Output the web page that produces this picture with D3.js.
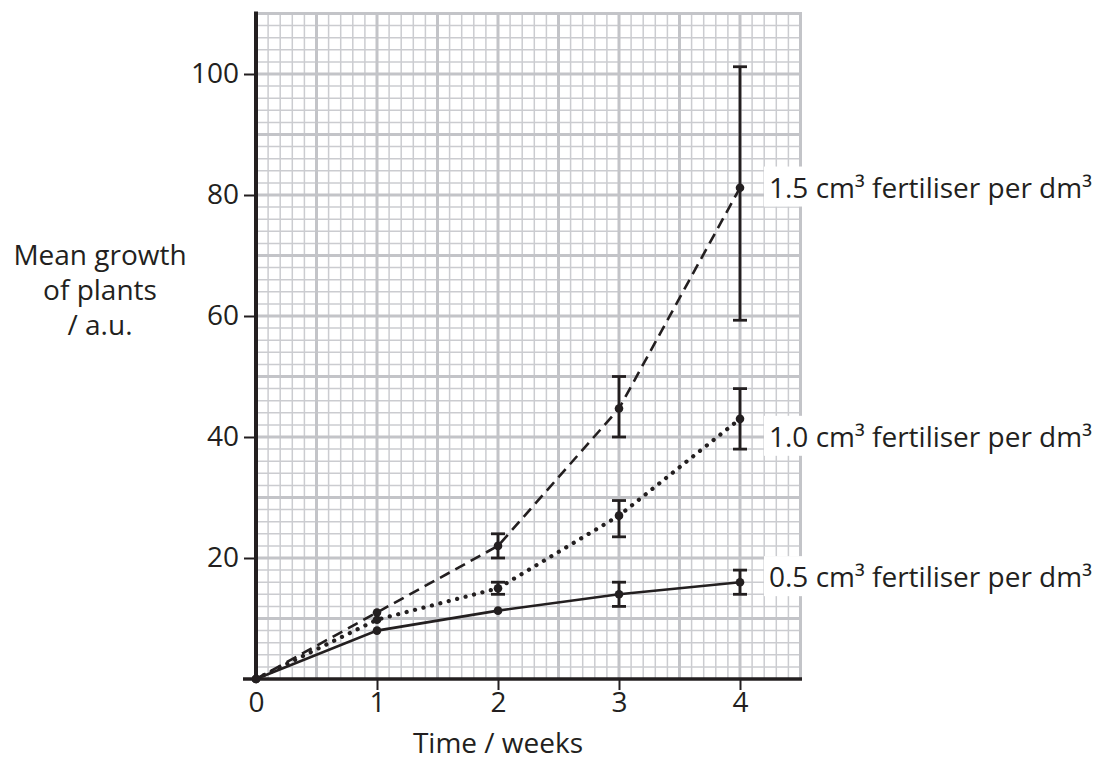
<!DOCTYPE html>
<html><head><meta charset="utf-8">
<script src="https://cdn.jsdelivr.net/npm/d3@7"></script>
<style>
html,body{margin:0;padding:0;background:#fff;}
text{font-family:"Open Sans",sans-serif;fill:#231f20;}
</style></head>
<body>
<svg id="c" width="1095" height="760"></svg>
<script>
const weeks = [0, 1, 2, 3, 4];
const seriesNames = ["1.5 cm³ fertiliser per dm³", "1.0 cm³ fertiliser per dm³", "0.5 cm³ fertiliser per dm³"];
const growth15 = [0, 11, 22, 44.7, 81.2];
const growth10 = [0, 9.8, 15, 27, 43];
const growth05 = [0, 8, 11.3, 14, 16];
const err15Low  = [null, null, 20, 40, 59.3];
const err15High = [null, null, 24, 50, 101.2];
const err10Low  = [null, null, 14, 23.5, 38];
const err10High = [null, null, 16, 29.5, 48];
const err05Low  = [null, null, null, 12, 14];
const err05High = [null, null, null, 16, 18];
const labelValues = [81.2, 40, 16.8];
const yTicks = [20, 40, 60, 80, 100];
const xTicks = [0, 1, 2, 3, 4];

const svg = d3.select("#c");
const x = d3.scaleLinear().domain([0, 4.5]).range([256, 800.5]);
const y = d3.scaleLinear().domain([0, 110]).range([679, 13.5]);
const ink = "#231f20";
const FS = 28;

// grid
const g = svg.append("g");
const vMinor = d3.range(0, 46).map(i => i / 10);
const hMinor = d3.range(0, 56).map(i => i * 2);
g.selectAll(".vm").data(vMinor.filter(v => Math.round(v*10) % 5 !== 0)).join("line")
  .attr("x1", d => x(d)).attr("x2", d => x(d)).attr("y1", y(110)).attr("y2", y(0))
  .attr("stroke", "#cbccd0").attr("stroke-width", 1.5);
g.selectAll(".hm").data(hMinor.filter(v => v % 10 !== 0)).join("line")
  .attr("y1", d => y(d)).attr("y2", d => y(d)).attr("x1", x(0)).attr("x2", x(4.5))
  .attr("stroke", "#cbccd0").attr("stroke-width", 1.5);
g.selectAll(".vM").data(vMinor.filter(v => Math.round(v*10) % 5 === 0)).join("line")
  .attr("x1", d => x(d)).attr("x2", d => x(d)).attr("y1", y(110) - 1.5).attr("y2", y(0))
  .attr("stroke", "#c3c4c8").attr("stroke-width", 3);
g.selectAll(".hM").data(d3.range(10, 111, 10)).join("line")
  .attr("y1", d => y(d)).attr("y2", d => y(d)).attr("x1", x(0)).attr("x2", x(4.5) + 1.5)
  .attr("stroke", "#c3c4c8").attr("stroke-width", 3);

// axes
svg.append("line").attr("x1", x(0)).attr("x2", x(0)).attr("y1", y(110) - 2).attr("y2", y(0))
  .attr("stroke", ink).attr("stroke-width", 4);
svg.append("line").attr("x1", 243).attr("x2", x(4.5) + 1.5).attr("y1", y(0)).attr("y2", y(0))
  .attr("stroke", ink).attr("stroke-width", 3.5);

const yAxis = d3.axisLeft(y).tickValues(yTicks).tickSize(12).tickPadding(5).tickFormat(d3.format("d"));
const ya = svg.append("g").attr("transform", `translate(${x(0)},0)`).call(yAxis);
ya.select(".domain").remove();
ya.selectAll(".tick line").attr("stroke", ink).attr("stroke-width", 2);
ya.selectAll(".tick text").attr("font-size", FS).attr("font-family", "Open Sans").attr("fill", ink);

const xAxis = d3.axisBottom(x).tickValues(xTicks).tickSize(11).tickPadding(2).tickFormat(d3.format("d"));
const xa = svg.append("g").attr("transform", `translate(0,${y(0)})`).call(xAxis);
xa.select(".domain").remove();
xa.selectAll(".tick line").attr("stroke", ink).attr("stroke-width", 2).attr("display", d => d === 0 ? "none" : null);
xa.selectAll(".tick text").attr("font-size", FS).attr("font-family", "Open Sans").attr("fill", ink);

// lines
const line = d3.line().x((d, i) => x(weeks[i])).y(d => y(d));
const series = [
  {v: growth15, dash: "11 6.5", cap: "butt", w: 2.6},
  {v: growth10, dash: "0.1 8.6", cap: "round", w: 4.2},
  {v: growth05, dash: null, cap: "butt", w: 2.6}
];
series.forEach(s => {
  svg.append("path").datum(s.v).attr("d", line).attr("fill", "none")
    .attr("stroke", ink).attr("stroke-width", s.w)
    .attr("stroke-dasharray", s.dash).attr("stroke-linecap", s.cap);
});

// error bars
function errBars(lo, hi) {
  weeks.forEach((w, i) => {
    if (lo[i] == null) return;
    const gx = x(w);
    svg.append("line").attr("x1", gx).attr("x2", gx).attr("y1", y(lo[i])).attr("y2", y(hi[i]))
      .attr("stroke", ink).attr("stroke-width", 2.8);
    [lo[i], hi[i]].forEach(v => svg.append("line").attr("x1", gx - 7).attr("x2", gx + 7)
      .attr("y1", y(v)).attr("y2", y(v)).attr("stroke", ink).attr("stroke-width", 2.8));
  });
}
errBars(err15Low, err15High);
errBars(err10Low, err10High);
errBars(err05Low, err05High);

// points
[growth15, growth10, growth05].forEach(v => {
  svg.selectAll(null).data(v).join("circle")
    .attr("cx", (d, i) => x(weeks[i])).attr("cy", d => y(d)).attr("r", 4.3).attr("fill", ink);
});

// labels
seriesNames.forEach((name, i) => {
  const t = svg.append("text").attr("x", 769).attr("y", y(labelValues[i])).attr("dy", "0.35em")
    .attr("font-size", FS).text(name);
  const bb = t.node().getBBox();
  svg.insert("rect", function(){ return t.node(); })
    .attr("x", bb.x - 5).attr("y", bb.y - 1).attr("width", bb.width + 10).attr("height", bb.height + 2)
    .attr("fill", "#fff");
});

// axis titles
const yt = svg.append("text").attr("text-anchor", "middle").attr("font-size", FS);
["Mean growth", "of plants", "/ a.u."].forEach((s, i) => {
  yt.append("tspan").attr("x", 100).attr("y", 265 + i * 35).text(s);
});
svg.append("text").attr("x", x(2)).attr("y", 753).attr("text-anchor", "middle")
  .attr("font-size", FS).text("Time / weeks");
</script>
</body></html>
